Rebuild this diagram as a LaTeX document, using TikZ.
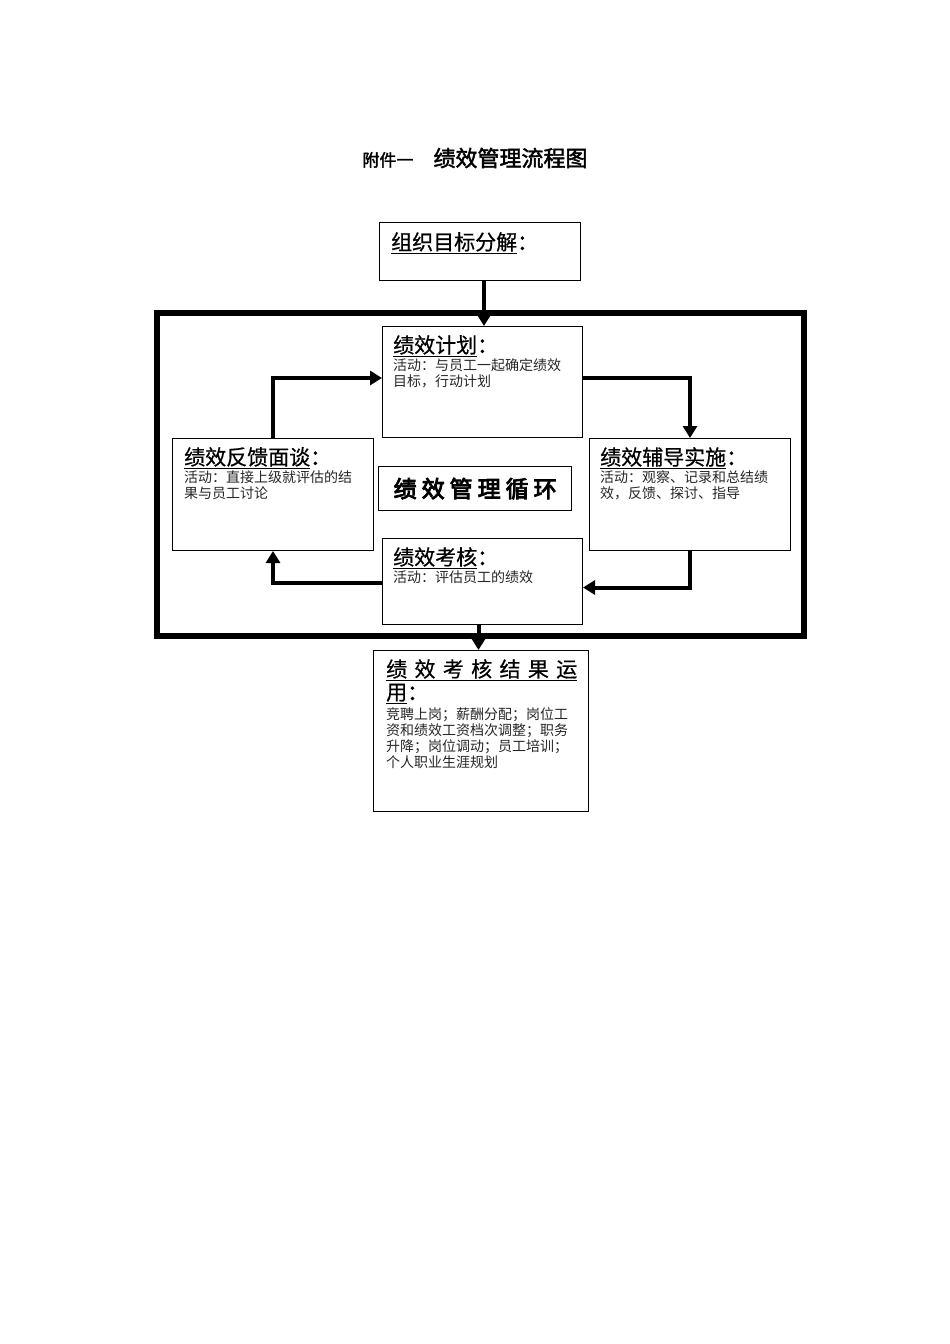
\documentclass[tikz,border=0pt]{standalone}
\usepackage{fontspec}
\setmainfont{Noto Sans CJK SC}
\newfontfamily\cjkmed[FakeBold=0.6]{Noto Sans CJK SC}
\newfontfamily\cjkbf[FakeBold=2]{Noto Sans CJK SC}
\newfontfamily\cjkheavy[FakeBold=4]{Noto Sans CJK SC}
\usetikzlibrary{arrows.meta,calc}
\begin{document}
\begin{tikzpicture}[x=1pt,y=-1pt,
 box/.style={draw,line width=1pt,anchor=north west,inner sep=0pt},
 head/.style={anchor=north west,inner sep=0pt,font=\cjkmed\fontsize{21}{23}\selectfont},
 body/.style={anchor=north west,inner sep=0pt,align=left,font=\fontsize{14}{16}\selectfont,text=black!85},
 flow/.style={line width=4pt,-{Triangle[length=12pt,width=14pt]}},
 frame/.style={line width=6pt,line join=miter},
]
\useasboundingbox (0,0) rectangle (950,1344);

% title
\node (title) at (475,158) {\cjkbf\fontsize{17}{19}\selectfont 附件一\hspace{20pt}\fontsize{22}{24}\selectfont 绩效管理流程图};

% big frame
\draw[frame] (157,313) rectangle (804,636);

% boxes
\node[box,minimum width=201pt,minimum height=58pt] (org) at (379,222) {};
\node[box,minimum width=200pt,minimum height=111pt] (plan) at (382,326) {};
\node[box,minimum width=201pt,minimum height=112pt] (fb) at (172,438) {};
\node[box,minimum width=201pt,minimum height=112pt] (coach) at (589,438) {};
\node[box,line width=1.3pt,minimum width=193pt,minimum height=44pt] (cycle) at (378,466) {};
\node[box,minimum width=200pt,minimum height=86pt] (eval) at (382,538) {};
\node[box,minimum width=215pt,minimum height=161pt] (res) at (373,650) {};

% texts
\node[head] (orgh) at ($(org.north west)+(12,10)$) {\underline{组织目标分解}{\cjkbf ：}};

\node[head] (planh) at ($(plan.north west)+(11,9)$) {\underline{绩效计划}{\cjkbf ：}};
\node[body] (planb) at ($(plan.north west)+(11,32)$) {活动：与员工一起确定绩效\\目标，行动计划};

\node[head] (fbh) at ($(fb.north west)+(12,9)$) {\underline{绩效反馈面谈}{\cjkbf ：}};
\node[body] (fbb) at ($(fb.north west)+(12,32)$) {活动：直接上级就评估的结\\果与员工讨论};

\node[head] (coachh) at ($(coach.north west)+(11,9)$) {\underline{绩效辅导实施}{\cjkbf ：}};
\node[body] (coachb) at ($(coach.north west)+(11,32)$) {活动：观察、记录和总结绩\\效，反馈、探讨、指导};

\node[anchor=center,inner sep=0pt] (cyclet) at (cycle.center) {\cjkheavy\fontsize{23}{25}\selectfont 绩\hspace{5pt}效\hspace{5pt}管\hspace{5pt}理\hspace{5pt}循\hspace{5pt}环};

\node[head] (evalh) at ($(eval.north west)+(11,9)$) {\underline{绩效考核}{\cjkbf ：}};
\node[body] (evalb) at ($(eval.north west)+(11,32)$) {活动：评估员工的绩效};

\node[head,align=left] (resh) at ($(res.north west)+(13,9)$) {\underline{\hbox to 191pt{绩\hfill 效\hfill 考\hfill 核\hfill 结\hfill 果\hfill 运}}\\\underline{用}{\cjkbf ：}};
\node[body] (resb) at ($(res.north west)+(13,57)$) {竞聘上岗；薪酬分配；岗位工\\资和绩效工资档次调整；职务\\升降；岗位调动；员工培训；\\个人职业生涯规划};

% connectors
\draw[flow] ([xshift=4pt]org.south) -- ([xshift=4pt]org.south |- plan.north);
\draw[flow] (fb.north) |- ([yshift=4pt]plan.west);
\draw[flow] ([yshift=4pt]plan.east) -| (coach.north);
\draw[flow] (coach.south) |- ([yshift=-6pt]eval.east);
\draw[flow] ([yshift=-1pt]eval.west) -| (fb.south);
\draw[flow] ([xshift=-4pt]eval.south) -- ([xshift=-4pt]eval.south |- res.north);
\end{tikzpicture}
\end{document}
